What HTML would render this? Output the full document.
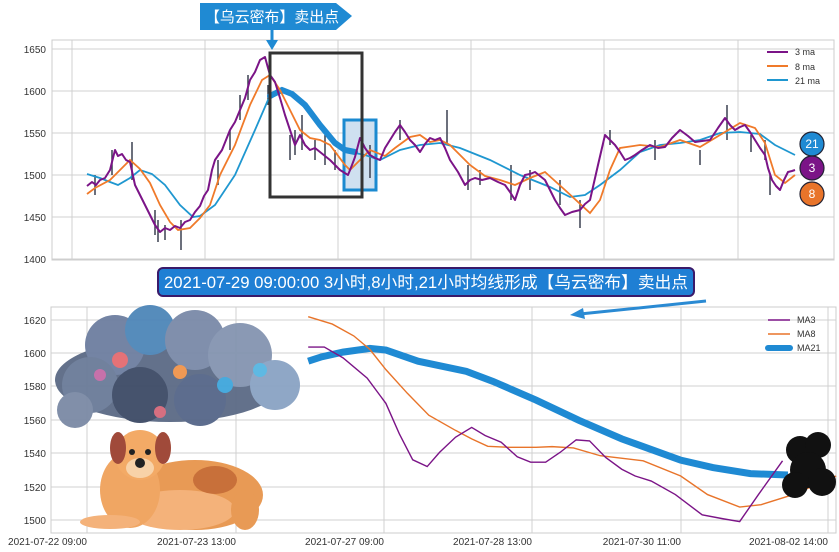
<!DOCTYPE html>
<html><head><meta charset="utf-8"><style>
body{margin:0;background:#fff;width:839px;height:552px;overflow:hidden}
svg{display:block;font-family:"Liberation Sans","Noto Sans CJK SC",sans-serif}
</style></head><body>
<svg width="839" height="552" viewBox="0 0 839 552">
<!-- TOP CHART -->
<rect x="52" y="40" width="782" height="220" fill="#fff" stroke="#ccc"/>
<g stroke="#d0d0d0" stroke-width="1">
<line x1="52" x2="834" y1="49" y2="49"/><line x1="52" x2="834" y1="91" y2="91"/><line x1="52" x2="834" y1="133" y2="133"/><line x1="52" x2="834" y1="175" y2="175"/><line x1="52" x2="834" y1="217" y2="217"/><line x1="52" x2="834" y1="259" y2="259"/>
<line x1="72" x2="72" y1="40" y2="260"/><line x1="205" x2="205" y1="40" y2="260"/><line x1="338" x2="338" y1="40" y2="260"/><line x1="471" x2="471" y1="40" y2="260"/><line x1="604" x2="604" y1="40" y2="260"/><line x1="738" x2="738" y1="40" y2="260"/>
</g>
<g font-size="10" fill="#333" text-anchor="end">
<text x="46" y="53">1650</text><text x="46" y="95">1600</text><text x="46" y="137">1550</text><text x="46" y="179">1500</text><text x="46" y="221">1450</text><text x="46" y="263">1400</text>
</g>
<rect x="344" y="120" width="32" height="70" fill="#cfe0f0" stroke="#1b8ad0" stroke-width="3"/>
<g stroke="#3a4150" stroke-width="1.5">
<line x1="95" y1="175" x2="95" y2="195"/><line x1="112" y1="150" x2="112" y2="175"/><line x1="132" y1="142" x2="132" y2="180"/><line x1="158" y1="220" x2="158" y2="242"/><line x1="181" y1="220" x2="181" y2="250"/><line x1="218" y1="160" x2="218" y2="185"/><line x1="248" y1="75" x2="248" y2="100"/><line x1="268" y1="85" x2="268" y2="105"/><line x1="290" y1="135" x2="290" y2="160"/><line x1="302" y1="115" x2="302" y2="150"/><line x1="325" y1="135" x2="325" y2="165"/><line x1="370" y1="145" x2="370" y2="178"/><line x1="447" y1="110" x2="447" y2="145"/><line x1="468" y1="165" x2="468" y2="190"/><line x1="511" y1="165" x2="511" y2="200"/><line x1="580" y1="200" x2="580" y2="228"/><line x1="610" y1="130" x2="610" y2="145"/><line x1="727" y1="105" x2="727" y2="140"/><line x1="751" y1="135" x2="751" y2="152"/><line x1="770" y1="175" x2="770" y2="195"/>
<line x1="155" y1="210" x2="155" y2="235"/><line x1="165" y1="225" x2="165" y2="240"/><line x1="230" y1="130" x2="230" y2="150"/><line x1="240" y1="95" x2="240" y2="120"/><line x1="295" y1="130" x2="295" y2="155"/><line x1="315" y1="140" x2="315" y2="160"/><line x1="335" y1="150" x2="335" y2="170"/><line x1="400" y1="120" x2="400" y2="140"/><line x1="480" y1="170" x2="480" y2="185"/><line x1="530" y1="170" x2="530" y2="190"/><line x1="560" y1="180" x2="560" y2="205"/><line x1="655" y1="140" x2="655" y2="160"/><line x1="700" y1="150" x2="700" y2="165"/><line x1="765" y1="140" x2="765" y2="160"/>
</g>
<polyline fill="none" stroke="#1f97d0" stroke-width="1.8" points="87,174 100,178 110,182 118,185 130,178 140,170 152,174 165,185 180,205 193,217 200,216 215,205 235,175 255,130 268,100 280,92 286,90 298,100 315,120 335,145 350,152 365,155 380,160 400,150 420,145 440,143 460,148 490,160 520,175 550,187 570,197 585,195 600,185 620,170 640,152 660,145 680,143 700,140 720,133 740,132 760,134 775,145 795,155"/>
<polyline fill="none" stroke="#1f8ad3" stroke-width="6" stroke-linecap="round" points="270,96 282,90 292,94 305,105 320,125 335,143 345,150 355,152"/>
<polyline fill="none" stroke="#f07a2a" stroke-width="1.8" points="87,194 95,188 110,180 125,165 130,160 140,169 150,183 160,205 170,222 178,230 190,228 200,218 210,205 220,175 235,145 250,105 262,80 270,75 280,90 290,110 300,130 310,138 320,140 330,145 345,165 350,170 360,160 370,150 385,156 395,148 410,137 420,135 430,142 440,140 450,145 470,165 485,176 500,180 515,185 530,178 545,172 565,190 590,213 600,200 610,170 620,148 640,145 660,147 680,140 700,147 720,135 740,123 755,128 765,143 775,175 785,183 795,175"/>
<polyline fill="none" stroke="#7b1487" stroke-width="2" stroke-linejoin="round" points="87,186 92,182 96,185 100,180 105,178 110,170 115,150 118,156 122,154 126,160 130,162 135,185 140,195 145,205 150,215 155,225 160,232 165,228 170,230 175,226 180,228 185,222 190,220 195,212 200,206 204,196 208,190 212,170 215,160 222,150 230,130 235,122 240,110 245,98 250,80 255,72 260,60 265,57 268,68 270,75 275,82 280,98 285,115 290,130 295,145 300,135 305,145 310,150 315,148 320,152 325,156 330,160 335,165 340,170 348,175 352,165 355,157 360,138 365,148 370,155 375,158 380,160 385,148 390,140 395,132 400,125 405,132 410,140 415,145 420,152 425,144 430,138 435,140 440,138 445,148 450,160 458,172 465,185 470,180 475,178 482,180 490,178 498,182 505,185 510,192 515,200 520,185 525,175 530,174 535,172 540,176 545,180 550,190 555,200 560,208 565,215 572,212 580,210 585,204 590,200 598,165 605,135 610,140 615,145 620,152 625,160 630,158 635,155 642,150 650,145 658,148 665,147 672,138 680,130 688,136 695,142 702,141 710,140 718,128 725,118 730,125 735,130 740,127 745,125 750,132 755,140 760,148 765,155 768,168 772,180 776,186 780,190 784,180 788,172 792,171 795,170"/>
<rect x="270" y="53" width="92" height="144" fill="none" stroke="#333" stroke-width="3"/>
<g font-size="9" fill="#333">
<line x1="767" x2="788" y1="52" y2="52" stroke="#7b1487" stroke-width="2"/><text x="795" y="55">3 ma</text>
<line x1="767" x2="788" y1="66" y2="66" stroke="#f07a2a" stroke-width="2"/><text x="795" y="70">8 ma</text>
<line x1="767" x2="788" y1="80" y2="80" stroke="#1f97d0" stroke-width="2"/><text x="795" y="84">21 ma</text>
</g>
<g font-size="12" fill="#fff" text-anchor="middle" stroke-width="1.2">
<circle cx="812" cy="144" r="12" fill="#1f8ad3" stroke="#223"/><text x="812" y="148">21</text>
<circle cx="812" cy="168" r="12" fill="#7b1487" stroke="#223"/><text x="812" y="172">3</text>
<circle cx="812" cy="194" r="12" fill="#e8742a" stroke="#223"/><text x="812" y="198">8</text>
</g>
<!-- top banner -->
<polygon points="200,3 336,3 352,16 336,30 200,30" fill="#1f8ad3"/>
<text x="205" y="22" font-size="15" fill="#fff" textLength="134" lengthAdjust="spacingAndGlyphs">【乌云密布】卖出点</text>
<line x1="272" y1="28" x2="272" y2="42" stroke="#1f8ad3" stroke-width="3"/>
<polygon points="266,40 278,40 272,50" fill="#1f8ad3"/>

<!-- BOTTOM CHART -->
<rect x="51" y="307" width="785" height="226" fill="#fff" stroke="#ccc"/>
<g stroke="#d0d0d0">
<line x1="51" x2="836" y1="320" y2="320"/><line x1="51" x2="836" y1="353" y2="353"/><line x1="51" x2="836" y1="386" y2="386"/><line x1="51" x2="836" y1="420" y2="420"/><line x1="51" x2="836" y1="453" y2="453"/><line x1="51" x2="836" y1="487" y2="487"/><line x1="51" x2="836" y1="520" y2="520"/>
<line x1="87" x2="87" y1="307" y2="533"/><line x1="236" x2="236" y1="307" y2="533"/><line x1="384" x2="384" y1="307" y2="533"/><line x1="532" x2="532" y1="307" y2="533"/><line x1="681" x2="681" y1="307" y2="533"/><line x1="828" x2="828" y1="307" y2="533"/>
</g>
<g font-size="10" fill="#333" text-anchor="end">
<text x="46" y="324">1620</text><text x="46" y="357">1600</text><text x="46" y="390">1580</text><text x="46" y="424">1560</text><text x="46" y="457">1540</text><text x="46" y="491">1520</text><text x="46" y="524">1500</text>
<text x="87" y="545">2021-07-22 09:00</text><text x="236" y="545">2021-07-23 13:00</text><text x="384" y="545">2021-07-27 09:00</text><text x="532" y="545">2021-07-28 13:00</text><text x="681" y="545">2021-07-30 11:00</text><text x="828" y="545">2021-08-02 14:00</text>
</g>
<g transform="translate(0,265) scale(0.536,0.3376)">
<polyline fill="none" vector-effect="non-scaling-stroke" stroke="#1f8ad3" stroke-width="7" points="575,285 600,272 640,258 690,247 720,252 780,285 870,315 920,345 1000,400 1080,460 1160,515 1270,578 1330,600 1400,618 1470,622"/>
<polyline fill="none" vector-effect="non-scaling-stroke" stroke="#e8742a" stroke-width="1.4" points="575,153 620,175 660,210 690,250 720,310 760,380 800,445 850,490 880,515 910,537 950,540 1000,540 1030,538 1070,542 1120,565 1200,580 1270,625 1320,680 1380,717 1420,710 1480,680 1560,625"/>
<polyline fill="none" vector-effect="non-scaling-stroke" stroke="#7b1487" stroke-width="1.4" points="575,243 605,243 640,275 685,335 720,410 745,500 770,577 797,597 820,555 850,510 880,481 905,505 935,525 965,568 990,584 1018,584 1045,555 1075,518 1100,521 1130,570 1160,605 1185,625 1215,640 1260,680 1310,740 1350,752 1380,760 1415,680 1460,580"/>
</g>
<g font-size="9" fill="#333">
<line x1="768" x2="790" y1="320" y2="320" stroke="#7b1487" stroke-width="1.5"/><text x="797" y="323">MA3</text>
<line x1="768" x2="790" y1="334" y2="334" stroke="#e8742a" stroke-width="1.5"/><text x="797" y="337">MA8</text>
<line x1="768" x2="790" y1="348" y2="348" stroke="#1f8ad3" stroke-width="6" stroke-linecap="round"/><text x="797" y="351">MA21</text>
</g>
<!-- cloud -->
<g opacity="0.95">
<ellipse cx="170" cy="380" rx="115" ry="42" fill="#5b6a85"/>
<circle cx="115" cy="345" r="30" fill="#6d7ea0"/>
<circle cx="150" cy="330" r="25" fill="#4e86b8"/>
<circle cx="195" cy="340" r="30" fill="#7a8aa8"/>
<circle cx="240" cy="355" r="32" fill="#8494b0"/>
<circle cx="90" cy="385" r="28" fill="#6a7b98"/>
<circle cx="275" cy="385" r="25" fill="#8aa3c4"/>
<circle cx="140" cy="395" r="28" fill="#3d4a66"/>
<circle cx="200" cy="400" r="26" fill="#556688"/>
<circle cx="75" cy="410" r="18" fill="#7b8aa5"/>
<circle cx="120" cy="360" r="8" fill="#e46b70"/><circle cx="180" cy="372" r="7" fill="#f0944b"/><circle cx="100" cy="375" r="6" fill="#c56aa6"/><circle cx="225" cy="385" r="8" fill="#3fa6dc"/><circle cx="160" cy="412" r="6" fill="#d4687a"/><circle cx="260" cy="370" r="7" fill="#56b6e2"/>
</g>
<!-- dog -->
<g>
<ellipse cx="195" cy="495" rx="68" ry="35" fill="#e89a55"/>
<ellipse cx="180" cy="510" rx="55" ry="20" fill="#f4b27a"/>
<ellipse cx="215" cy="480" rx="22" ry="14" fill="#c8703a"/>
<ellipse cx="130" cy="490" rx="30" ry="38" fill="#f0a663"/>
<ellipse cx="140" cy="455" rx="25" ry="25" fill="#f3aa66"/>
<ellipse cx="118" cy="448" rx="8" ry="16" fill="#a04a3a"/>
<ellipse cx="163" cy="448" rx="8" ry="16" fill="#a04a3a"/>
<ellipse cx="140" cy="468" rx="14" ry="10" fill="#f8d2a8"/>
<circle cx="140" cy="463" r="5" fill="#222"/>
<circle cx="132" cy="452" r="3" fill="#222"/><circle cx="148" cy="452" r="3" fill="#222"/>
<ellipse cx="110" cy="522" rx="30" ry="7" fill="#f4b27a"/>
<ellipse cx="245" cy="510" rx="14" ry="20" fill="#e89a55"/>
</g>
<!-- black cloud -->
<g fill="#111">
<circle cx="800" cy="450" r="14"/><circle cx="818" cy="445" r="13"/><circle cx="808" cy="470" r="18"/><circle cx="795" cy="485" r="13"/><circle cx="822" cy="482" r="14"/>
</g>
<!-- bottom banner -->
<rect x="158" y="268" width="536" height="28" rx="5" fill="#1f7fd4" stroke="#3a1a6a" stroke-width="2"/>
<text x="164" y="288" font-size="16.5" fill="#fff" textLength="524" lengthAdjust="spacingAndGlyphs">2021-07-29 09:00:00 3小时,8小时,21小时均线形成【乌云密布】卖出点</text>
<line x1="706" y1="301" x2="580" y2="314" stroke="#2a8ad3" stroke-width="3"/>
<polygon points="570,315 583,308 585,319" fill="#2a8ad3"/>
</svg>
</body></html>
